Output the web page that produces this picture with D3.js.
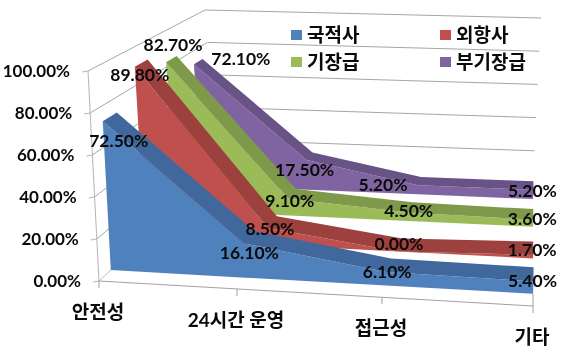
<!DOCTYPE html>
<html><head><meta charset="utf-8">
<script src="https://cdn.jsdelivr.net/npm/d3@7/dist/d3.min.js"></script>
<style>html,body{margin:0;padding:0;background:#fff}svg{display:block;filter:blur(.35px)}
text{font-family:Lato,"Noto Sans CJK KR",sans-serif;font-weight:700;fill:#0a0a0a}</style>
</head><body><div id="c"></div>
<script>
const categories = ["안전성","24시간 운영","접근성","기타"];
const seriesNames = ["국적사","외항사","기장급","부기장급"];
const 국적사 = [72.5,16.1,6.1,5.4];
const 외항사 = [89.8,8.5,0,1.7];
const 기장급 = [82.7,9.1,4.5,3.6];
const 부기장급 = [72.1,17.5,5.2,5.2];
const seriesValues = [국적사,외항사,기장급,부기장급];
const frontColors = ["#4F81BD","#C0504D","#9BBB59","#8064A2"];
const topColors = ["#41689C","#9D413F","#7F994A","#695285"];
const valueTicks = [0,20,40,60,80,100];
// layout of the 3-D box
const depthFront = [.10,.39,.65,.877], depthBack = [.22,.50,.74,.95];
const labelNudge = [
 [[16,20],[5,10],[1,0],[-1,0]],
 [[5,8],[2,1],[1,-7],[-1,-5]],
 [[7,-17],[1,2],[0,-2],[-1,-1]],
 [[47,-5],[-2,10],[-35,0],[-1,1]]
];
const W=567,H=356;
const svg=d3.select("#c").append("svg").attr("width",W).attr("height",H);
const U=d3.scaleLinear().domain([0,1,2,3]).range([0,.318,.652,1]);
const V=d3.scaleLinear().domain([0,100]).range([0,1]);
// corners: [x,y] at (u, v, d)
const C={f:{b:[[99,281],[533,306]],t:[[88,71],[543,71]]},k:{b:[[217,172],[533,184]],t:[[205,10],[541,18]]}};
const mix=(a,b,t)=>a+(b-a)*t;
function project(i,val,d){
  const u=U(i),v=V(val);
  const at=(pl,c)=>mix(mix(pl.b[0][c],pl.b[1][c],u),mix(pl.t[0][c],pl.t[1][c],u),v);
  return [mix(at(C.f,0),at(C.k,0),d),mix(at(C.f,1),at(C.k,1),d)];
}
const line=d3.line();
const poly=pts=>line(pts)+"Z";
const gridC="#a6a6a6";
const g=svg.append("g");
// walls
valueTicks.forEach(t=>{
  g.append("path").attr("d",line([project(0,t,0),project(0,t,1),project(3,t,1)])).attr("fill","none").attr("stroke",t==0?"#bbb":gridC);
  const p=project(0,t,0);
  g.append("line").attr("x1",p[0]-6).attr("x2",p[0]).attr("y1",p[1]+1).attr("y2",p[1]).attr("stroke","#b5b5b5");
  svg.append("text").attr("class","vt").attr("x",p[0]-18).attr("y",p[1]+6).attr("text-anchor","end").attr("font-size",17).text(t.toFixed(2)+"%");
});
g.append("path").attr("d",line([project(0,0,0),project(0,100,0)])).attr("fill","none").attr("stroke","#b5b5b5");
g.append("path").attr("d",line([project(0,0,0),project(3,0,0)])).attr("fill","none").attr("stroke","#a0a0a0");
g.append("path").attr("d",line([project(3,0,.1),project(3,0,0)])).attr("fill","none").attr("stroke","#a0a0a0");
categories.forEach((c,i)=>{
  const p=project(i,0,0);
  g.append("line").attr("x1",p[0]).attr("x2",p[0]).attr("y1",p[1]).attr("y2",p[1]+7).attr("stroke","#a0a0a0");
  svg.append("text").attr("x",p[0]-1).attr("y",p[1]+38).attr("text-anchor","middle").attr("font-size",19).text(c);
});
// bands back to front
d3.range(3,-1,-1).forEach(s=>{
  const vals=seriesValues[s],df=depthFront[s],db=depthBack[s];
  const idx=d3.range(vals.length);
  g.append("path").attr("fill",frontColors[s]).attr("d",poly([
    ...idx.map(i=>project(i,vals[i],df)),...idx.slice().reverse().map(i=>project(i,0,df))]));
  g.append("path").attr("fill",topColors[s]).attr("d",poly([
    ...idx.map(i=>project(i,vals[i],df)),...idx.slice().reverse().map(i=>project(i,vals[i],db))]));
});
// data labels
seriesValues.forEach((vals,s)=>vals.forEach((v,i)=>{
  const p=project(i,v,depthFront[s]),n=labelNudge[s][i];
  svg.append("text").attr("x",p[0]+n[0]).attr("y",p[1]+n[1]+6).attr("text-anchor","middle").attr("font-size",17.5).text(v.toFixed(2)+"%");
}));
// legend
const lx=d3.scalePoint().domain([0,1]).range([291,440]), ly=d3.scalePoint().domain([0,1]).range([35,62]);
seriesNames.forEach((n,s)=>{
  const x=lx(s%2),y=ly(Math.floor(s/2));
  svg.append("rect").attr("x",x).attr("y",y-5).attr("width",11).attr("height",10).attr("fill",frontColors[s]);
  svg.append("text").attr("x",x+16).attr("y",y+7).attr("font-size",19).text(n);
});
</script></body></html>
